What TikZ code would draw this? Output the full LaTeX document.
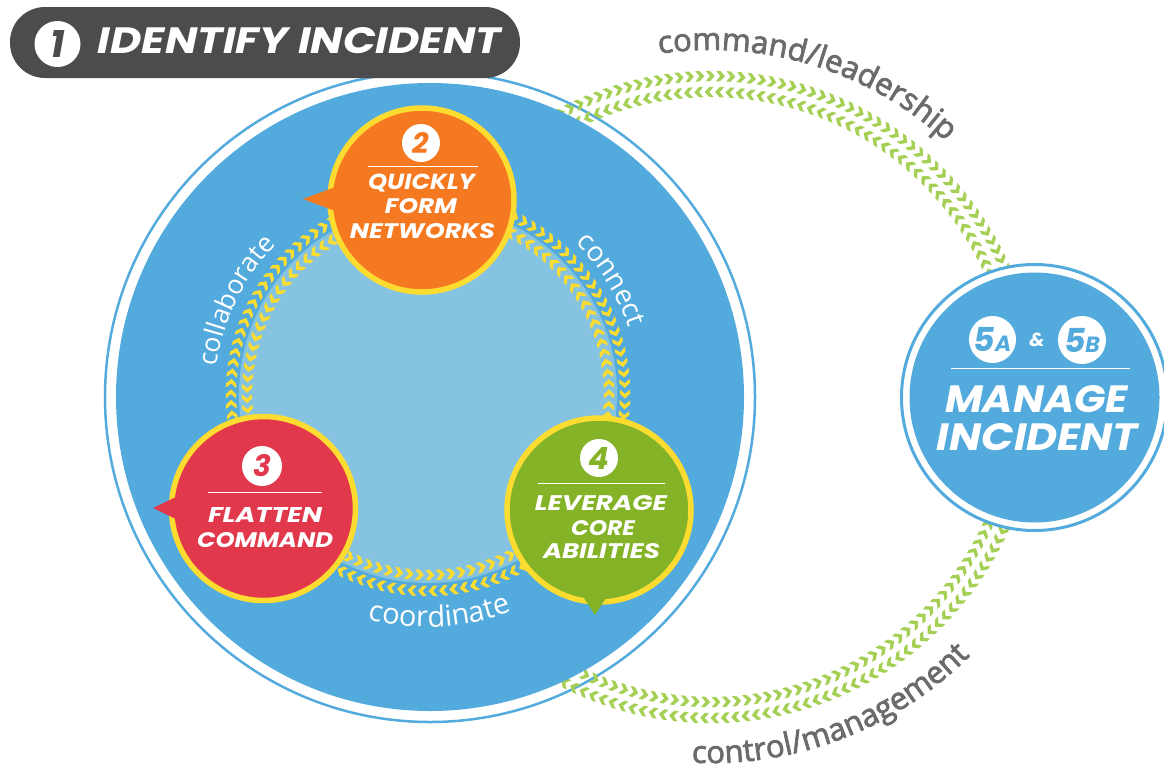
\documentclass[tikz,border=0pt]{standalone}
\usepackage{fontspec}
\usepackage{graphicx}
\setmainfont{Poppins}
\newfontfamily\hfont{Poppins}
\newfontfamily\labfont{Open Sans}
\newfontfamily\graylabfont{Open Sans}[FakeBold=2.5]
\usetikzlibrary{decorations.text}
\definecolor{bigblue}{HTML}{53AADC}
\definecolor{lightblue}{HTML}{85C3E1}
\definecolor{orng}{HTML}{F47920}
\definecolor{redn}{HTML}{E2384B}
\definecolor{grn}{HTML}{84B327}
\definecolor{yel}{HTML}{FCDC30}
\definecolor{chevg}{HTML}{A6CF56}
\definecolor{ttlgray}{HTML}{4C4C4C}
\definecolor{labgray}{HTML}{6A6B6D}
\newcommand{\fitt}[3]{\resizebox{#1}{#2}{\hfont\bfseries\itshape #3}}
\newcommand{\digit}[3]{\resizebox{!}{#1}{\hfont\bfseries\itshape\color{#2}#3}}
\tikzset{
  chev/.pic={\fill (-4.5,-5.2) -- (-0.3,-5.2) -- (4.5,0) -- (-0.3,5.2) -- (-4.5,5.2) -- (-0.2,0) -- cycle;},
  stage/.style={circle, draw=yel, line width=5.5pt, minimum size=184pt, inner sep=0pt},
  numc/.style={circle, fill=white, minimum size=38pt, inner sep=0pt},
  txt/.style={anchor=base, inner sep=0pt},
  divider/.style={white, line width=1pt},
  wlabel/.style 2 args={decorate, decoration={text along path, text align=center, text color=white, text={|\labfont\fontsize{#2}{#2}\selectfont|#1}}},
  glabel/.style={decorate, decoration={text along path, text align=center, text color=labgray, text={|\graylabfont\fontsize{31}{31}\selectfont|#1}}}
}
\begin{document}
\begin{tikzpicture}[x=1pt,y=1pt]
\useasboundingbox (0,0) rectangle (1164,-772);

% big circle outer ring
\draw[bigblue, line width=2.5pt] (430,-397) circle (325);

% green chevron loop between circles
\begin{scope}[shift={(711,-397)}]
  \foreach \a in {-130,-128.15,...,130} \pic[color=chevg, rotate=\a-90] at (\a:321) {chev};
  \foreach \a in {-130,-128.05,...,130} \pic[color=chevg, rotate=\a+90] at (\a:305) {chev};
  \path[glabel={command/leadership}] (113:347) arc[start angle=113, end angle=33, radius=347];
  \path[glabel={control/management}] (-109:366) arc[start angle=-109, end angle=-29, radius=366];
\end{scope}

% big circle fill
\fill[bigblue] (430,-397) circle (314);
\fill[lightblue] (428,-394) circle (189);

% yellow chevron ring
\begin{scope}[shift={(428,-394)}]
  \foreach \a in {0,3.05,...,357} \pic[color=yel, rotate=\a-90] at (\a:197) {chev};
  \foreach \a in {0,3.3,...,357} \pic[color=yel, rotate=\a+90] at (\a:181) {chev};
  \path[wlabel={collaborate}{26.5}] (194:213) arc[start angle=194, end angle=114, radius=213];
  \path[wlabel={connect}{27.5}] (72:211) arc[start angle=72, end angle=-8, radius=211];
  \path[wlabel={coordinate}{29}] (-127:233) arc[start angle=-127, end angle=-47, radius=233];
\end{scope}

% node 2
\node[stage, fill=orng] (n2) at (422,-200) {};
\fill[orng] (303,-199) -- (338,-186) -- (338,-212) -- cycle;
\node[numc] (n2num) at (421,-143) {\digit{21pt}{orng}{2}};
\draw[divider] (368,-166) -- (478,-166);
\node[txt] (n2a) at (421.5,-189) {\fitt{107pt}{15.5pt}{\color{white}QUICKLY}};
\node[txt] (n2b) at (421,-213) {\fitt{72pt}{15pt}{\color{white}FORM}};
\node[txt] (n2c) at (422.5,-238) {\fitt{145pt}{15pt}{\color{white}NETWORKS}};

% node 3
\node[stage, fill=redn] (n3) at (263.5,-508.5) {};
\fill[redn] (153,-508) -- (180,-495) -- (180,-521) -- cycle;
\node[numc, minimum size=40pt] (n3num) at (262,-466) {\digit{22pt}{redn}{3}};
\draw[divider] (208,-492) -- (322,-492);
\node[txt] (n3a) at (265,-522) {\fitt{114pt}{15pt}{\color{white}FLATTEN}};
\node[txt] (n3b) at (265,-547) {\fitt{136pt}{15pt}{\color{white}COMMAND}};

% node 4
\node[stage, fill=grn] (n4) at (599,-510) {};
\fill[grn] (595,-615) -- (584,-598) -- (606,-598) -- cycle;
\node[numc] (n4num) at (599,-458) {\digit{22pt}{grn}{4}};
\draw[divider] (538,-483) -- (665,-483);
\node[txt] (n4a) at (601,-510) {\fitt{132pt}{15pt}{\color{white}LEVERAGE}};
\node[txt] (n4b) at (603,-535) {\fitt{64pt}{15pt}{\color{white}CORE}};
\node[txt] (n4c) at (601.5,-558) {\fitt{117pt}{15pt}{\color{white}ABILITIES}};

% manage incident
\node[circle, draw=bigblue, line width=3pt, fill=white, minimum size=266pt, inner sep=0pt] (m5) at (1034.5,-397.5) {};
\fill[bigblue] (m5.center) circle (125);
\node[numc, minimum size=47pt] (m5a) at (992.5,-339.5) {\hfont\bfseries\itshape\color{bigblue}\fontsize{33}{33}\selectfont 5\fontsize{22}{22}\selectfont A};
\node[numc, minimum size=48pt] (m5b) at (1082,-340) {\hfont\bfseries\itshape\color{bigblue}\fontsize{33}{33}\selectfont 5\fontsize{22}{22}\selectfont B};
\node[inner sep=0pt] (amp) at (1037,-340) {\hfont\bfseries\itshape\color{white}\fontsize{19}{19}\selectfont\&};
\draw[divider] (951,-368) -- (1130,-368);
\node[txt] (m5t1) at (1036.5,-412) {\fitt{183pt}{27pt}{\color{white}MANAGE}};
\node[txt] (m5t2) at (1037.5,-450) {\fitt{201pt}{27pt}{\color{white}INCIDENT}};

% title
\node[fill=ttlgray, rounded corners=35pt, minimum width=510pt, minimum height=71pt, inner sep=0pt] (title) at (265,-42.5) {};
\node[numc, minimum size=46pt] (t1) at (57.5,-44) {\digit{27pt}{ttlgray}{1}};
\node[txt] (ttext) at (299.5,-53) {\fitt{403pt}{26pt}{\color{white}IDENTIFY INCIDENT}};
\end{tikzpicture}
\end{document}
